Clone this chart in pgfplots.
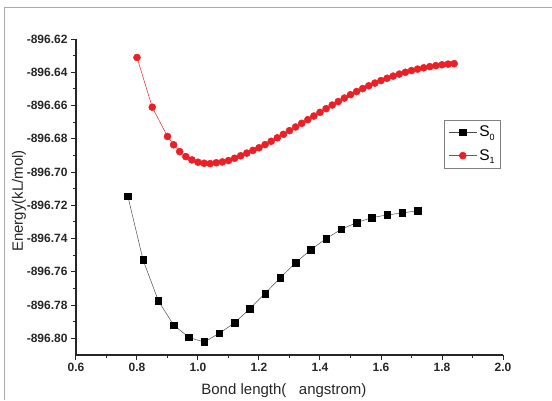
\documentclass[border=0pt]{standalone}
\usepackage{fontspec}
\setmainfont{Liberation Sans}
\usepackage{pgfplots}
\pgfplotsset{compat=1.18}
\definecolor{sred}{RGB}{234,32,38}
\definecolor{frame}{RGB}{170,170,170}
\newcommand{\legfont}{\fontsize{15.5}{17}\selectfont}

\begin{document}
\begin{tikzpicture}
\useasboundingbox (-76pt,-45pt) rectangle (476pt,355pt);
\draw[frame, line width=0.8pt] (-72pt,-45pt) -- (-72pt,348pt) -- (476pt,348pt);
\begin{axis}[
    scale only axis,
    width=427pt, height=316pt,
    xmin=0.6, xmax=2.0,
    ymin=-896.81, ymax=-896.62,
    axis x line=bottom, axis y line=left,
    axis line style={-, line width=1.1pt, black!85},
    tick align=outside,
    major tick length=5pt, minor tick length=3pt,
    tick style={line width=1pt, black!85},
    xtick={0.6,0.8,1.0,1.2,1.4,1.6,1.8,2.0},
    ytick={-896.80,-896.78,-896.76,-896.74,-896.72,-896.70,-896.68,-896.66,-896.64,-896.62},
    minor x tick num=1, minor y tick num=1,
    /pgf/number format/assume math mode=true,
    xticklabel style={/pgf/number format/.cd, fixed, fixed zerofill, precision=1},
    yticklabel style={/pgf/number format/.cd, fixed, fixed zerofill, precision=2},
    tick label style={font=\bfseries\fontsize{12}{14}\selectfont, text=black!85},
    xlabel={Bond length(\ \ \ angstrom)},
    ylabel={Energy(kL/mol)},
    label style={font=\fontsize{15}{17}\selectfont, text=black!85},
    xlabel style={at={(rel axis cs:0.487,0)}, anchor=center, yshift=-36pt},
    ylabel style={at={(rel axis cs:0,0.487)}, anchor=center, yshift=57pt},
    legend style={at={(rel axis cs:0.995,0.744)}, anchor=north east,
        draw=gray, line width=0.5pt, row sep=7pt, inner sep=4pt},
    legend cell align=left,
    legend image code/.code={
        \draw[mark repeat=2, mark phase=2] plot coordinates {(0cm,0cm) (0.5cm,0cm) (1.0cm,0cm)};
    },
]
\addplot[black!70, line width=0.5pt, mark=square*, mark size=3.3pt,
    mark options={fill=black, draw=black}] coordinates {
(0.77,-896.7145) (0.82,-896.7529) (0.87,-896.7774) (0.92,-896.7920)
(0.97,-896.7994) (1.02,-896.8022) (1.07,-896.7970) (1.12,-896.7906)
(1.17,-896.7822) (1.22,-896.7730) (1.27,-896.7635) (1.32,-896.7545)
(1.37,-896.7467) (1.42,-896.7400) (1.47,-896.7344) (1.52,-896.7304)
(1.57,-896.7274) (1.62,-896.7258) (1.67,-896.7246) (1.72,-896.7232)
};
\addlegendentry{\legfont S\raisebox{-0.45ex}{\fontsize{9}{10}\selectfont 0}}
\addplot[sred, line width=0.5pt, mark=*, mark size=3.5pt,
    mark options={fill=sred, draw=sred}] coordinates {
(0.80,-896.6311) (0.85,-896.6610) (0.90,-896.6786) (0.92,-896.6836)
(0.94,-896.6877) (0.96,-896.6907) (0.98,-896.6927) (1.00,-896.6941)
(1.02,-896.6947) (1.04,-896.6949) (1.06,-896.6944) (1.08,-896.6939)
(1.10,-896.6931) (1.12,-896.6917) (1.14,-896.6902) (1.16,-896.6886)
(1.18,-896.6870) (1.20,-896.6854) (1.22,-896.6835) (1.24,-896.6815)
(1.26,-896.6794) (1.28,-896.6773) (1.30,-896.6751) (1.32,-896.6729)
(1.34,-896.6707) (1.36,-896.6685) (1.38,-896.6663) (1.40,-896.6641)
(1.42,-896.6619) (1.44,-896.6597) (1.46,-896.6576) (1.48,-896.6555)
(1.50,-896.6535) (1.52,-896.6516) (1.54,-896.6498) (1.56,-896.6481)
(1.58,-896.6465) (1.60,-896.6450) (1.62,-896.6436) (1.64,-896.6423)
(1.66,-896.6411) (1.68,-896.6400) (1.70,-896.6390) (1.72,-896.6381)
(1.74,-896.6373) (1.76,-896.6366) (1.78,-896.6360) (1.80,-896.6355)
(1.82,-896.6351) (1.84,-896.6348)
};
\addlegendentry{\legfont S\raisebox{-0.45ex}{\fontsize{9}{10}\selectfont 1}}
\end{axis}
\end{tikzpicture}
\end{document}
